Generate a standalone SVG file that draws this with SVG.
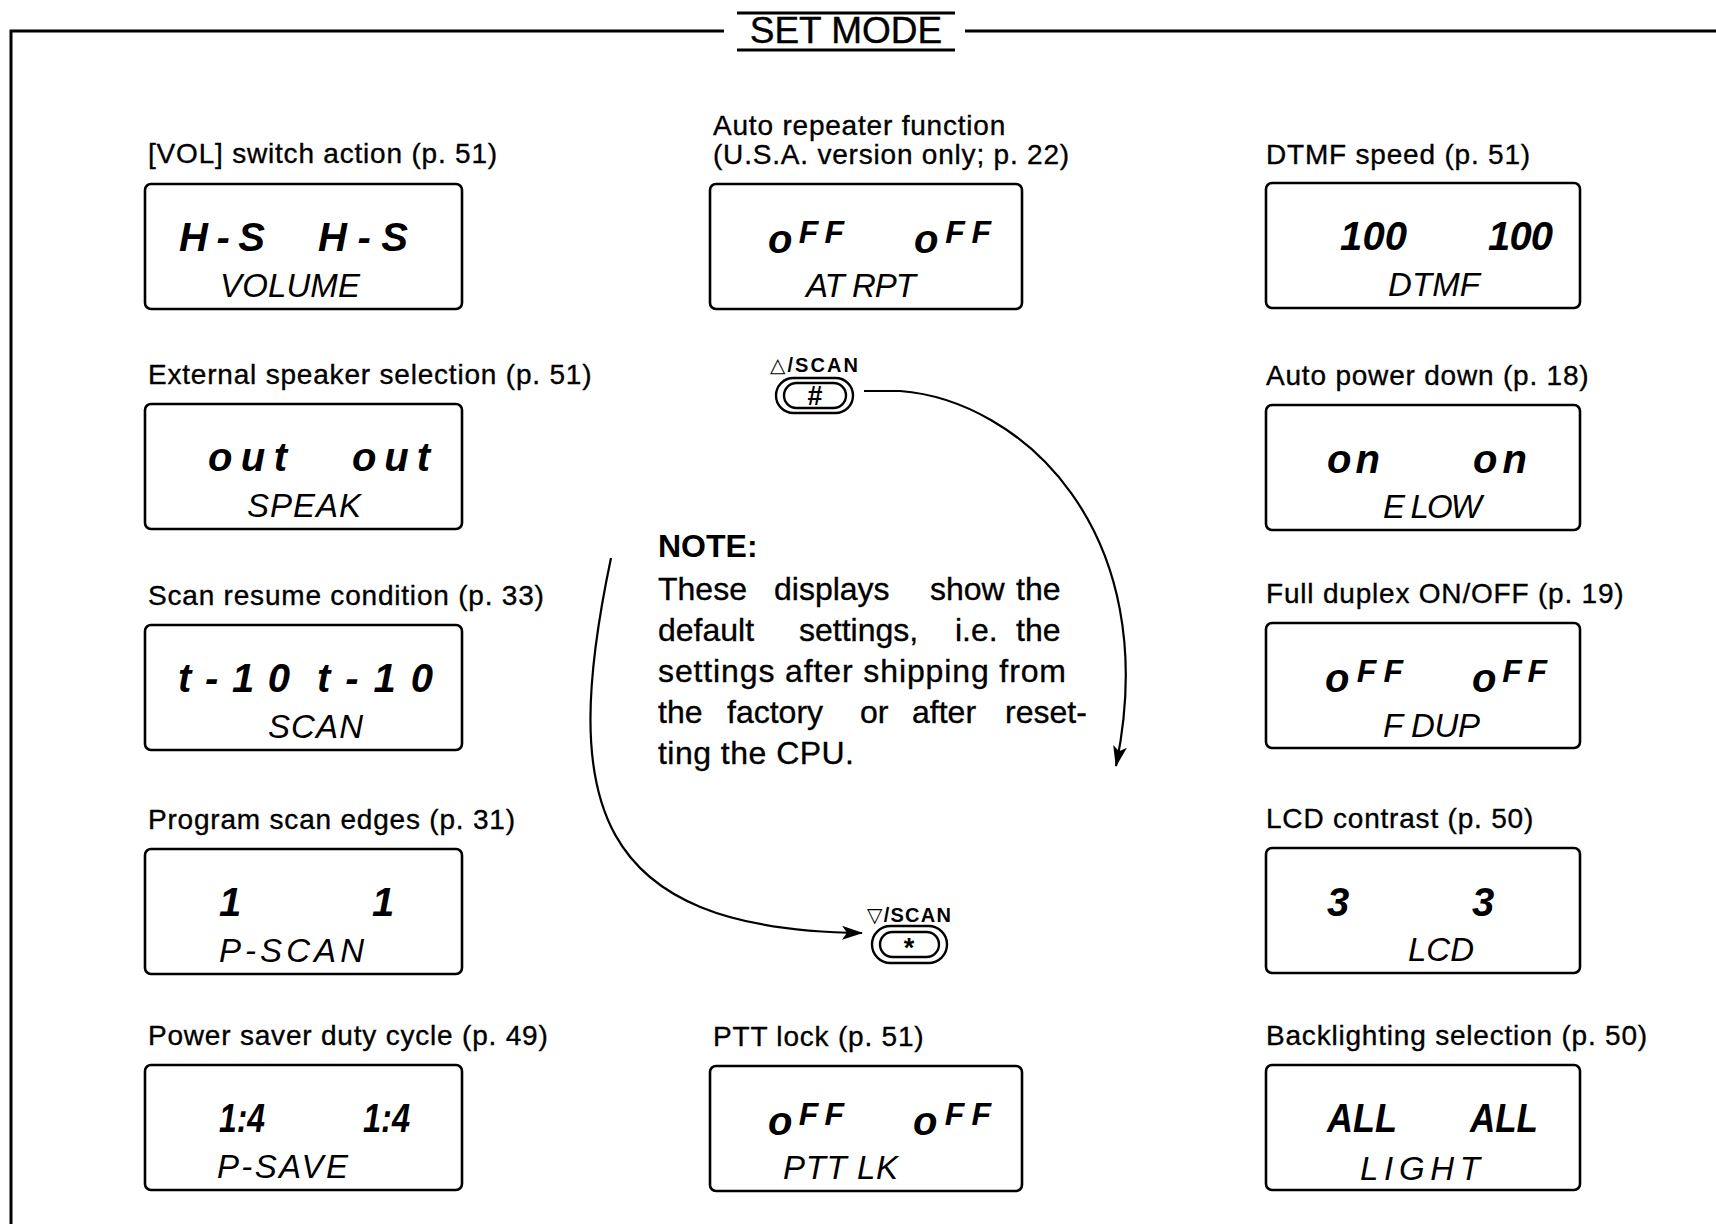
<svg xmlns="http://www.w3.org/2000/svg" width="1716" height="1224" viewBox="0 0 1716 1224">
<style>
.bg{fill:#fff}
.frame{fill:none;stroke:#000;stroke-width:3}
.box{fill:#fff;stroke:#000;stroke-width:2.6}
.lbl{font-family:"Liberation Sans",Arial,sans-serif;font-size:28px;letter-spacing:0.8px;fill:#000;stroke:#000;stroke-width:0.35}
.l1{font-family:"Liberation Sans",Arial,sans-serif;font-size:40px;font-weight:bold;font-style:italic;fill:#000}
.l2{font-family:"Liberation Sans",Arial,sans-serif;font-size:33px;font-style:italic;fill:#000}
.sm{font-size:32px}
.note{font-family:"Liberation Sans",Arial,sans-serif;font-size:32px;fill:#000;stroke:#000;stroke-width:0.35}
.noteb{font-family:"Liberation Sans",Arial,sans-serif;font-size:32px;font-weight:bold;fill:#000}
.title{font-family:"Liberation Sans",Arial,sans-serif;font-size:37px;fill:#000;stroke:#000;stroke-width:0.4}
.btnl{font-family:"Liberation Sans","DejaVu Sans",sans-serif;font-size:20px;font-weight:bold;fill:#000}
.btn{fill:#fff;stroke:#000;stroke-width:2.4}
.key{font-family:"Liberation Sans",Arial,sans-serif;font-size:27px;font-weight:bold;fill:#000}
.arc{fill:none;stroke:#000;stroke-width:2.2}
</style>
<defs>
<marker id="ah" markerUnits="userSpaceOnUse" markerWidth="24" markerHeight="16" refX="20" refY="7" orient="auto">
<path d="M0,0 L21,7 L0,14 L5,7 z" fill="#000"/>
</marker>
</defs>
<rect class="bg" x="0" y="0" width="1716" height="1224"/>

<g id="frame">
<path class="frame" d="M11,1224 L11,31 L724,31"/>
<path class="frame" d="M965,31 L1716,31"/>
<line class="frame" x1="737" y1="13" x2="955" y2="13"/>
<line class="frame" x1="737" y1="50" x2="955" y2="50"/>
<text class="title" x="846" y="43" text-anchor="middle">SET MODE</text>
</g>

<g id="vol">
<text class="lbl" x="148" y="163">[VOL] switch action (p. 51)</text>
<rect class="box" x="145" y="184" width="317" height="125" rx="6"/>
<text class="l1" x="179" y="251" textLength="86">H-S</text>
<text class="l1" x="318" y="251" textLength="90">H-S</text>
<text class="l2" x="220" y="297" textLength="140">VOLUME</text>
</g>

<g id="speak">
<text class="lbl" x="148" y="384">External speaker selection (p. 51)</text>
<rect class="box" x="145" y="404" width="317" height="125" rx="6"/>
<text class="l1" x="208" y="471" textLength="79">out</text>
<text class="l1" x="352" y="471" textLength="78">out</text>
<text class="l2" x="247" y="517" textLength="114">SPEAK</text>
</g>

<g id="scan">
<text class="lbl" x="148" y="605">Scan resume condition (p. 33)</text>
<rect class="box" x="145" y="625" width="317" height="125" rx="6"/>
<text class="l1" x="178" y="692" textLength="112">t-10</text>
<text class="l1" x="317" y="692" textLength="116">t-10</text>
<text class="l2" x="268" y="738" textLength="95">SCAN</text>
</g>

<g id="pscan">
<text class="lbl" x="148" y="829">Program scan edges (p. 31)</text>
<rect class="box" x="145" y="849" width="317" height="125" rx="6"/>
<text class="l1" x="219" y="916">1</text>
<text class="l1" x="372" y="916">1</text>
<text class="l2" x="219" y="962" textLength="145">P-SCAN</text>
</g>

<g id="psave">
<text class="lbl" x="148" y="1045">Power saver duty cycle (p. 49)</text>
<rect class="box" x="145" y="1065" width="317" height="125" rx="6"/>
<text class="l1" x="219" y="1132" textLength="46" lengthAdjust="spacingAndGlyphs">1:4</text>
<text class="l1" x="363" y="1132" textLength="47" lengthAdjust="spacingAndGlyphs">1:4</text>
<text class="l2" x="217" y="1178" textLength="131">P-SAVE</text>
</g>

<g id="atrpt">
<text class="lbl" x="713" y="135">Auto repeater function</text>
<text class="lbl" x="713" y="164">(U.S.A. version only; p. 22)</text>
<rect class="box" x="710" y="184" width="312" height="125" rx="6"/>
<text class="l1" x="768" y="253" textLength="76">o<tspan class="sm" dy="-10">FF</tspan></text>
<text class="l1" x="914" y="253" textLength="77">o<tspan class="sm" dy="-10">FF</tspan></text>
<text class="l2" x="806" y="297" textLength="110">AT RPT</text>
</g>

<g id="up-key">
<text class="btnl" x="770" y="372" textLength="88">△/SCAN</text>
<rect class="btn" x="776" y="378" width="77" height="35" rx="17.5"/>
<rect class="btn" x="784" y="383" width="62" height="25" rx="12.5"/>
<text class="key" x="815" y="405" text-anchor="middle">#</text>
</g>

<g id="down-key">
<text class="btnl" x="867" y="922" textLength="84">▽/SCAN</text>
<rect class="btn" x="872" y="926" width="75" height="37" rx="18.5"/>
<rect class="btn" x="880" y="932" width="59" height="25" rx="12.5"/>
<text class="key" x="909" y="957" text-anchor="middle">*</text>
</g>

<g id="note">
<text class="noteb" x="658" y="557">NOTE:</text>
<text class="note" y="600"><tspan x="658">These</tspan><tspan x="774">displays</tspan><tspan x="930">show</tspan><tspan x="1016">the</tspan></text>
<text class="note" y="641"><tspan x="658">default</tspan><tspan x="799">settings,</tspan><tspan x="955">i.e.</tspan><tspan x="1016">the</tspan></text>
<text class="note" x="658" y="682" textLength="408">settings after shipping from</text>
<text class="note" y="723"><tspan x="658">the</tspan><tspan x="727">factory</tspan><tspan x="860">or</tspan><tspan x="912">after</tspan><tspan x="1005">reset-</tspan></text>
<text class="note" x="658" y="764" textLength="196">ting the CPU.</text>
</g>

<g id="pttlk">
<text class="lbl" x="713" y="1046">PTT lock (p. 51)</text>
<rect class="box" x="710" y="1066" width="312" height="125" rx="6"/>
<text class="l1" x="768" y="1135" textLength="76">o<tspan class="sm" dy="-10">FF</tspan></text>
<text class="l1" x="913" y="1135" textLength="78">o<tspan class="sm" dy="-10">FF</tspan></text>
<text class="l2" x="783" y="1179" textLength="115">PTT LK</text>
</g>

<g id="dtmf">
<text class="lbl" x="1266" y="164">DTMF speed (p. 51)</text>
<rect class="box" x="1266" y="183" width="314" height="125" rx="6"/>
<text class="l1" x="1340" y="250" textLength="67">100</text>
<text class="l1" x="1488" y="250" textLength="65">100</text>
<text class="l2" x="1388" y="296" textLength="92">DTMF</text>
</g>

<g id="elow">
<text class="lbl" x="1266" y="385">Auto power down (p. 18)</text>
<rect class="box" x="1266" y="405" width="314" height="125" rx="6"/>
<text class="l1" x="1327" y="473" textLength="53">on</text>
<text class="l1" x="1473" y="473" textLength="54">on</text>
<text class="l2" x="1383" y="518" textLength="99">E LOW</text>
</g>

<g id="fdup">
<text class="lbl" x="1266" y="603">Full duplex ON/OFF (p. 19)</text>
<rect class="box" x="1266" y="623" width="314" height="125" rx="6"/>
<text class="l1" x="1325" y="692" textLength="78">o<tspan class="sm" dy="-10">FF</tspan></text>
<text class="l1" x="1472" y="692" textLength="75">o<tspan class="sm" dy="-10">FF</tspan></text>
<text class="l2" x="1383" y="737" textLength="97">F DUP</text>
</g>

<g id="lcd">
<text class="lbl" x="1266" y="828">LCD contrast (p. 50)</text>
<rect class="box" x="1266" y="848" width="314" height="125" rx="6"/>
<text class="l1" x="1327" y="916">3</text>
<text class="l1" x="1472" y="916">3</text>
<text class="l2" x="1408" y="961">LCD</text>
</g>

<g id="light">
<text class="lbl" x="1266" y="1045">Backlighting selection (p. 50)</text>
<rect class="box" x="1266" y="1065" width="314" height="125" rx="6"/>
<text class="l1" x="1327" y="1132" textLength="70" lengthAdjust="spacingAndGlyphs">ALL</text>
<text class="l1" x="1470" y="1132" textLength="68" lengthAdjust="spacingAndGlyphs">ALL</text>
<text class="l2" x="1360" y="1180" textLength="120">LIGHT</text>
</g>

<g id="connectors">
<path class="arc" d="M864,391 L900,391 C1020,400 1165,530 1116,766" marker-end="url(#ah)"/>
<path class="arc" d="M611,558 C560,800 590,930 862,933" marker-end="url(#ah)"/>
</g>
</svg>
